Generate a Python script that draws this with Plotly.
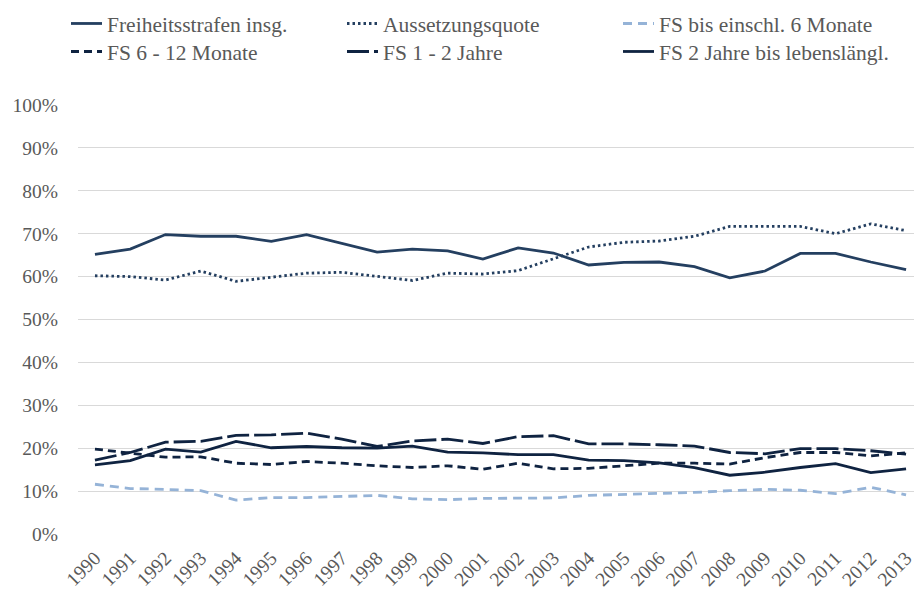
import plotly.graph_objects as go

years = [str(y) for y in range(1990, 2014)]
fs_insg = [65.2, 66.4, 69.8, 69.4, 69.4, 68.2, 69.8, 67.7, 65.7, 66.4, 66.0, 64.1,
           66.7, 65.5, 62.7, 63.3, 63.4, 62.3, 59.7, 61.3, 65.4, 65.4, 63.4, 61.6]
aussetzung = [60.2, 60.0, 59.2, 61.3, 58.9, 59.8, 60.8, 61.0, 60.0, 59.1, 60.8, 60.6,
              61.4, 64.1, 66.9, 68.0, 68.3, 69.4, 71.7, 71.7, 71.7, 70.0, 72.3, 70.7]
fs_bis6 = [11.6, 10.6, 10.4, 10.1, 7.9, 8.5, 8.5, 8.8, 9.0, 8.2, 8.0, 8.3,
           8.4, 8.4, 9.0, 9.2, 9.5, 9.7, 10.1, 10.4, 10.2, 9.4, 10.9, 9.1]
fs_6_12 = [19.8, 18.8, 17.9, 18.0, 16.5, 16.2, 16.9, 16.5, 15.9, 15.5, 15.9, 15.1,
           16.5, 15.2, 15.3, 15.9, 16.5, 16.5, 16.3, 17.8, 19.0, 19.0, 18.2, 18.9]
fs_1_2 = [17.2, 19.0, 21.4, 21.6, 23.0, 23.1, 23.5, 22.1, 20.4, 21.7, 22.1, 21.1,
          22.7, 22.9, 21.0, 21.0, 20.8, 20.5, 19.0, 18.7, 19.9, 19.9, 19.4, 18.6]
fs_2_ll = [16.1, 17.1, 19.8, 19.1, 21.6, 20.1, 20.4, 20.1, 20.0, 20.5, 19.1, 18.9,
           18.5, 18.5, 17.2, 17.1, 16.6, 15.5, 13.7, 14.4, 15.5, 16.4, 14.3, 15.2]

names = ["Freiheitsstrafen insg.", "Aussetzungsquote", "FS bis einschl. 6 Monate",
         "FS 6 - 12 Monate", "FS 1 - 2 Jahre", "FS 2 Jahre bis lebensl\u00e4ngl."]
series = [fs_insg, aussetzung, fs_bis6, fs_6_12, fs_1_2, fs_2_ll]
styles = [
    dict(color="#243F60", dash="solid", width=2.8),
    dict(color="#243F60", dash="2.5px,3px", width=2.8),
    dict(color="#95B3D7", dash="9px,6px", width=2.8),
    dict(color="#0F2341", dash="8px,5px", width=2.8),
    dict(color="#0F2341", dash="22px,5px", width=2.8),
    dict(color="#0F2341", dash="solid", width=2.8),
]
legend_rows = ["legend", "legend", "legend", "legend2", "legend2", "legend2"]

fig = go.Figure()
for n, s, st, lg in zip(names, series, styles, legend_rows):
    fig.add_trace(go.Scatter(x=years, y=[v / 100 for v in s], name=n, mode="lines",
                             line=st, legend=lg))

serif = "Liberation Serif, Times New Roman, serif"
tick_font = dict(family=serif, size=19.5, color="#595959")
legend_common = dict(orientation="h", x=66 / 916, xref="container", yref="container",
                     xanchor="left", yanchor="top",
                     entrywidth=230, entrywidthmode="pixels",
                     font=dict(family=serif, size=21.5, color="#595959"),
                     tracegroupgap=0, itemwidth=31, traceorder="normal",
                     bgcolor="rgba(0,0,0,0)")
fig.update_layout(
    width=916, height=599,
    margin=dict(l=78, r=0, t=105, b=65),
    paper_bgcolor="white", plot_bgcolor="white",
    font=tick_font,
    showlegend=True,
    legend=dict(legend_common, y=1 - 3 / 599),
    legend2=dict(legend_common, y=1 - 31 / 599),
    xaxis=dict(type="category", range=[-0.481, 23.225], showgrid=False, showline=False,
               ticks="", tickangle=-45, tickfont=tick_font, zeroline=False,
               ticklabelstandoff=8),
    yaxis=dict(range=[0, 1], tickformat=".0%", dtick=0.1, showgrid=True,
               gridcolor="#D9D9D9", gridwidth=1, zeroline=False, showline=False,
               ticks="", tickfont=tick_font, ticklabelstandoff=19),
)
fig.write_html("out.html", config={"displayModeBar": False},
               post_script="document.body.style.margin='0';document.body.style.overflow='hidden';")
